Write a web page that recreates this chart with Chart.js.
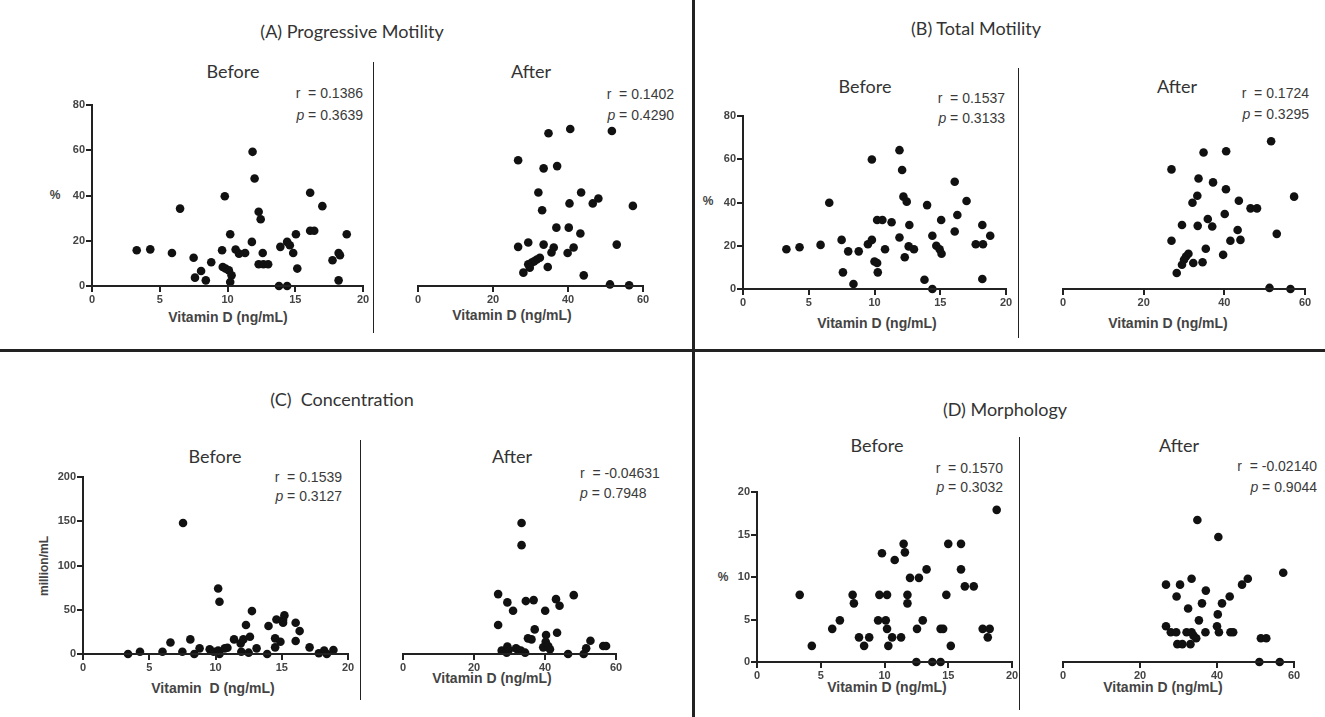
<!DOCTYPE html>
<html>
<head>
<meta charset="utf-8">
<script src="https://cdn.jsdelivr.net/npm/chart.js@4.4.1/dist/chart.umd.min.js"></script>
<style>
  html, body { margin:0; padding:0; background:#fff; }
  #fig { position:relative; width:1325px; height:717px; background:#fff; overflow:hidden; }
  #fig canvas { position:absolute; }
  .t { position:absolute; white-space:nowrap; color:#333; }
  .title { font-family:'Lato','Open Sans',sans-serif; font-size:18px; transform:translate(-50%,-50%); }
  .sub { font-family:'Lato','Open Sans',sans-serif; font-size:18px; transform:translate(-50%,-50%); }
  .stat { font-family:'Liberation Sans',Arial,sans-serif; font-size:14px; transform:translate(-100%,-50%); color:#3a3a3a; }
  .statL { font-family:'Liberation Sans',Arial,sans-serif; font-size:14px; transform:translate(0,-50%); color:#3a3a3a; }
  .xt { font-family:'Liberation Sans',Arial,sans-serif; font-size:14px; font-weight:bold; transform:translate(-50%,-50%); color:#444; }
  .yt { font-family:'Liberation Sans',Arial,sans-serif; font-size:12px; font-weight:bold; transform:translate(-50%,-50%); color:#444; }
  .ytr { font-family:'Liberation Sans',Arial,sans-serif; font-size:12px; font-weight:bold; transform:translate(-50%,-50%) rotate(-90deg); color:#444; }
  .line { position:absolute; background:#222; }
  .ax { position:absolute; background:#222; }
</style>
</head>
<body>
<div id="fig"></div>
<script>
// ---------- DATA ----------
// (A) Progressive Motility
const aBeforeX = [3.3,4.3,5.9,6.5,7.5,7.6,8.05,8.4,8.8,9.6,9.8,9.65,9.85,10.1,10.3,10.2,10.2,10.6,10.85,11.3,11.8,11.85,12.0,12.3,12.45,12.3,12.65,13.0,12.6,13.8,13.9,14.4,14.4,14.6,14.85,15.05,15.15,16.1,16.1,16.4,17.0,17.75,18.2,18.3,18.2,18.8];
const aBeforeY = [15.8,16.2,14.6,34.2,12.5,3.7,6.6,2.5,10.5,15.8,39.7,8.4,7.7,6.9,4.7,1.8,22.9,16.1,14.3,14.6,19.5,59.3,47.5,32.8,29.5,9.6,9.6,9.6,14.6,0,17.3,19.5,0,18,14.6,22.9,7.7,41.2,24.4,24.4,35.3,11.4,14.6,13.6,2.5,22.9];
const aAfterX = [26.7,34.8,40.6,51.7,33.5,37.1,32.1,43.5,33.1,40.4,46.6,48.1,57.3,36.9,40.2,43.3,26.7,29.4,33.5,36.2,35.6,39.9,41.5,53.0,32.5,31.7,30.95,30.2,29.4,29.8,34.6,28.1,44.2,51.2,56.3];
const aAfterY = [55.6,67.5,69.4,68.5,52,53,41.3,41.3,33.5,36.5,36.5,38.7,35.4,25.8,25.8,23.2,17.3,19.2,18.3,17,14.8,14.6,17,18.3,12.5,11.7,10.9,10.2,9.6,8.1,8.4,5.9,4.7,0.7,0.3];
// (B) Total Motility
const bBeforeX = [3.3,4.3,5.9,6.56,7.5,7.6,8.0,8.4,8.8,9.5,9.8,9.8,10.0,10.2,10.25,10.2,10.6,10.8,11.3,11.9,11.9,12.1,12.3,12.2,12.45,12.65,12.6,13.0,13.8,14.0,14.4,14.4,14.7,14.95,15.1,15.07,16.1,16.1,16.3,17.0,17.7,18.2,18.25,18.2,18.8];
const bBeforeY = [18.4,19.3,20.4,39.9,22.7,7.7,17.4,2.3,17.4,20.7,22.7,59.9,12.7,12,7.7,31.9,31.9,18.4,30.9,23.8,64.2,55,14.7,42.7,40.4,29.6,19.7,18.4,4.3,38.8,24.6,0,20,18.4,16.3,31.9,49.6,26.6,34.2,40.7,20.7,29.6,20.7,4.6,24.6];
const bAfterX = [26.9,34.85,40.45,51.6,33.6,37.2,40.4,33.3,32.1,43.6,46.5,48.1,57.3,40.1,35.9,37.0,29.5,33.4,43.3,53.0,26.9,41.5,44.0,35.4,39.7,31.1,30.5,30.0,29.5,32.3,34.6,28.2,51.2,56.4];
const bAfterY = [55.3,63.1,63.7,68.3,51.1,49.3,46.1,43.1,39.9,40.8,37.3,37.3,42.7,34.7,32.4,28.9,29.6,29.2,27.3,25.5,22.3,22.3,22.7,18.6,15.8,16.3,15,13.5,11.2,12,12.4,7.4,0.5,0];
// (C) Concentration
const cBeforeX = [3.4,4.3,6.0,6.6,7.55,7.5,8.1,8.4,8.8,9.56,9.86,10.2,10.2,10.3,10.3,10.7,10.9,11.4,11.9,11.95,12.1,12.3,12.6,12.75,12.5,13.1,13.9,14.0,14.5,14.5,14.6,14.9,15.1,15.2,15.1,16.05,16.35,16.05,17.1,17.8,18.2,18.4,18.9];
const cBeforeY = [0,2.6,2.6,13,148,2.6,16.5,0,6.4,5.3,2.6,3.8,74,59,0,6.4,7.1,16.5,12,2.6,16.5,32.7,19.5,48.5,1.5,6.4,0,31.6,17.7,7.5,39,13.9,38.3,43.6,35.3,35.3,25.9,14.7,7.5,0.8,3.8,0,4.5];
const cAfterX = [33.4,33.4,26.8,29.4,31.0,34.6,36.8,40.05,43.1,44.1,48.1,26.8,37.1,35.2,36.2,40.3,43.4,40.2,52.8,51.6,56.4,57.2,27.8,29.4,29.2,29.8,31.85,32.4,33.2,34.4,39.5,40.9,41.4,46.5,50.9];
const cAfterY = [148,123,67.7,58.3,48.9,59.8,60.9,48.9,62,54.5,66.5,32.7,27.8,17.7,16.5,21.4,24,13.9,15,6.4,9,9,3.8,8.3,1.5,4.5,6.4,4.5,3.8,1.5,7.5,9,5.3,0,0];
// (D) Morphology
const dBeforeX = [3.35,4.3,5.9,6.5,7.5,7.6,8.0,8.4,8.8,9.5,9.6,9.8,10.2,10.1,10.2,10.3,10.6,10.8,11.3,11.8,11.8,12.0,11.5,11.6,12.7,12.5,12.55,13.0,13.3,13.75,14.4,14.4,14.6,14.85,15.0,15.2,16.0,16.0,16.3,17.0,17.7,18.25,18.1,18.8];
const dBeforeY = [7.9,1.9,3.9,4.9,7.9,6.9,2.9,1.9,2.9,4.9,7.9,12.8,7.9,4.9,3.9,1.9,2.9,12,2.9,7.9,6.9,9.9,13.9,12.9,9.9,0,3.9,4.9,10.9,0,0,3.9,3.9,7.9,13.9,1.9,13.9,10.9,8.9,8.9,3.9,3.9,2.9,17.9];
const dAfterX = [34.9,40.35,57.2,26.75,30.4,33.4,46.5,48.0,29.5,37.1,43.3,41.3,36.1,32.5,40.2,35.3,26.75,28.0,29.4,32.1,33.4,33.9,34.6,37.0,40.0,40.5,43.5,44.2,29.7,31.0,33.1,51.4,52.8,51.0,56.3];
const dAfterY = [16.7,14.7,10.5,9.1,9.1,9.8,9.1,9.8,7.7,8.4,7.7,6.9,6.9,6.3,5.6,4.9,4.2,3.5,3.5,3.5,3.5,3.1,2.8,3.5,4.2,3.5,3.5,3.5,2.1,2.1,2.1,2.8,2.8,0,0];

// axis ranges / tick steps
const xBeforeRange = [0, 20, 5];
const xAfterRange = [0, 60, 20];
const yMotilityRange = [0, 80, 20];
const yConcRange = [0, 200, 50];
const yMorphRange = [0, 20, 5];

// texts
const panelTitles = [
  ['(A) Progressive Motility', 352, 31],
  ['(B) Total Motility', 976, 28],
  ['(C)&nbsp; Concentration', 342, 399],
  ['(D) Morphology', 1005, 409]
];
const subTitles = [
  ['Before', 233, 71], ['After', 531, 71],
  ['Before', 865, 86], ['After', 1177, 86],
  ['Before', 215, 456], ['After', 512, 456],
  ['Before', 877, 445], ['After', 1179, 445]
];
const statsR = ['0.1386','0.1402','0.1537','0.1724','0.1539','-0.04631','0.1570','-0.02140'];
const statsP = ['0.3639','0.4290','0.3133','0.3295','0.3127','0.7948','0.3032','0.9044'];
const statPos = [ // right edge x, r y, p y
  [363, 93, 115], [674, 94, 115], [1005, 98, 118], [1309, 93, 114],
  [342, 477, 496], [667, 473, 493], [1003, 468, 487], [1317, 466, 487]
];
const xTitles = [
  ['Vitamin D (ng/mL)', 228, 317], ['Vitamin D (ng/mL)', 512, 315],
  ['Vitamin D (ng/mL)', 877, 323], ['Vitamin D (ng/mL)', 1168, 323],
  ['Vitamin&nbsp; D (ng/mL)', 213, 688], ['Vitamin D (ng/mL)', 492, 678],
  ['Vitamin D (ng/mL)', 887, 687], ['Vitamin D (ng/mL)', 1163, 687]
];

// ---------- LAYOUT ----------
const fig = document.getElementById('fig');
function addText(cls, html, x, y) {
  const d = document.createElement('div');
  d.className = 't ' + cls;
  d.innerHTML = html;
  d.style.left = x + 'px';
  d.style.top = y + 'px';
  fig.appendChild(d);
  return d;
}
function addBox(cls, x, y, w, h) {
  const d = document.createElement('div');
  d.className = cls;
  d.style.left = x + 'px'; d.style.top = y + 'px';
  d.style.width = w + 'px'; d.style.height = h + 'px';
  fig.appendChild(d);
}
addBox('line', 692, 0, 3, 717);
addBox('line', 0, 349, 1325, 3);
addBox('line', 372.5, 62, 1.5, 271);
addBox('line', 1017.5, 68, 1.5, 270);
addBox('line', 359.5, 440, 1.5, 260);
addBox('line', 1018.5, 437, 1.5, 273);

panelTitles.forEach(t => addText('title', t[0], t[1], t[2]));
subTitles.forEach(t => addText('sub', t[0], t[1], t[2]));
xTitles.forEach(t => addText('xt', t[0], t[1], t[2]));
addText('yt', '%', 55, 195);
addText('yt', '%', 708, 201);
addText('yt', '%', 723, 577);
addText('ytr', 'million/mL', 44, 566);
statPos.forEach((p, i) => {
  if (i === 5) {
    addText('statL', 'r &nbsp;= ' + statsR[i], 580, p[1]);
    addText('statL', '<i>p</i> = ' + statsP[i], 580, p[2]);
  } else {
    addText('stat', 'r &nbsp;= ' + statsR[i], p[0], p[1]);
    addText('stat', '<i>p</i> = ' + statsP[i], p[0], p[2]);
  }
});

// ---------- CHARTS ----------
const panels = [
  { box:[92,105,363,286],  xr:xBeforeRange, yr:yMotilityRange, showY:true,  xs:aBeforeX, ys:aBeforeY },
  { box:[382,105,643,286], xr:xAfterRange,  yr:yMotilityRange, showY:false, xs:aAfterX,  ys:aAfterY },
  { box:[743,116,1006,289], xr:xBeforeRange, yr:yMotilityRange, showY:true, xs:bBeforeX, ys:bBeforeY },
  { box:[1027,116,1305,289], xr:xAfterRange, yr:yMotilityRange, showY:false, xs:bAfterX, ys:bAfterY },
  { box:[83,477,348,654],  xr:xBeforeRange, yr:yConcRange, showY:true,  xs:cBeforeX, ys:cBeforeY },
  { box:[367,477,616,654], xr:xAfterRange,  yr:yConcRange, showY:false, xs:cAfterX,  ys:cAfterY },
  { box:[757,492,1012,662], xr:xBeforeRange, yr:yMorphRange, showY:true, xs:dBeforeX, ys:dBeforeY },
  { box:[1027,492,1294,662], xr:xAfterRange, yr:yMorphRange, showY:false, xs:dAfterX, ys:dAfterY }
];

const padL = 40, padT = 12, padR = 14, padB = 26, yw = 36, xh = 22;
const AXIS_COLOR = '#222';

function axisConf(r, fitFn) {
  return {
    type:'linear', min:r[0], max:r[1],
    ticks:{ stepSize:r[2], color:'#444', padding:2, maxRotation:0, autoSkip:false,
            font:{ family:"'Liberation Sans', Arial, sans-serif", size:11, weight:'bold' } },
    grid:{ display:true, drawOnChartArea:false, drawTicks:true, tickLength:5, color:AXIS_COLOR, lineWidth:2 },
    border:{ display:true, color:AXIS_COLOR, width:2 },
    afterFit: fitFn
  };
}

// Axis lines and tick marks placed from the chart's own scales (overlay on the canvas)
function overlayAxes(chart, offX, offY, showY) {
  const a = chart.chartArea;
  const sx = chart.scales.x, sy = chart.scales.y;
  addBox('ax', offX + a.left - 1, offY + a.bottom - 1, (a.right - a.left) + 2, 2);
  sx.ticks.forEach(t => {
    const px = sx.getPixelForValue(t.value);
    addBox('ax', offX + px - 1, offY + a.bottom, 2, 6);
  });
  if (showY) {
    addBox('ax', offX + a.left - 1, offY + a.top - 1, 2, (a.bottom - a.top) + 2);
    sy.ticks.forEach(t => {
      const py = sy.getPixelForValue(t.value);
      addBox('ax', offX + a.left - 6, offY + py - 1, 6, 2);
    });
  }
}

panels.forEach((p) => {
  const [x0, y0, x1, y1] = p.box;
  const c = document.createElement('canvas');
  const W = (x1 - x0) + padL + padR, H = (y1 - y0) + padT + padB;
  const offX = x0 - padL, offY = y0 - padT;
  c.width = W; c.height = H;
  c.style.left = offX + 'px';
  c.style.top = offY + 'px';
  fig.appendChild(c);
  const pts = p.xs.map((x, k) => ({ x: x, y: p.ys[k] }));
  const xScale = axisConf(p.xr, s => { s.height = xh; });
  const yScale = axisConf(p.yr, s => { s.width = yw; });
  if (!p.showY) yScale.display = false;
  const ch = new Chart(c, {
    type:'scatter',
    data:{ datasets:[{ data:pts, backgroundColor:'#111', borderWidth:0, pointRadius:4.3, pointHoverRadius:4.3, clip:false }] },
    options:{
      responsive:false, animation:false, devicePixelRatio:1,
      layout:{ padding:{ left: p.showY ? padL - yw : padL, top:padT, right:padR, bottom:padB - xh } },
      plugins:{ legend:{ display:false }, tooltip:{ enabled:false } },
      scales:{ x:xScale, y:yScale }
    }
  });
  overlayAxes(ch, offX, offY, p.showY);
});
</script>
</body>
</html>
